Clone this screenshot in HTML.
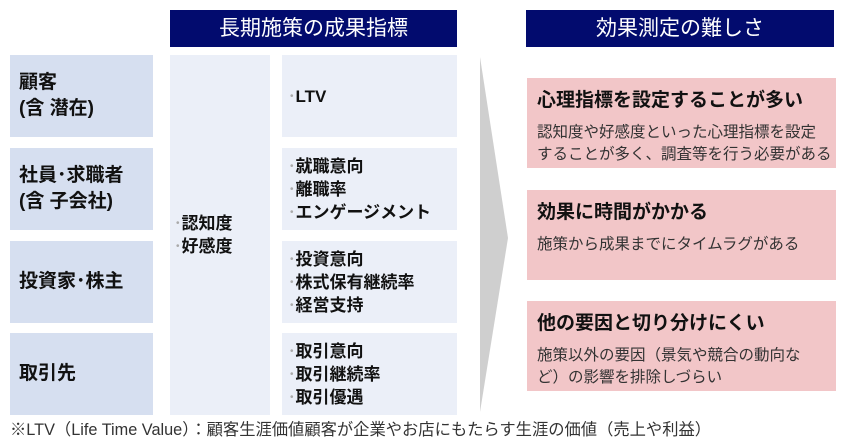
<!DOCTYPE html>
<html><head><meta charset="utf-8"><style>
body{margin:0;width:846px;height:445px;background:#fff;position:relative;overflow:hidden;font-family:"Liberation Sans","Noto Sans CJK JP",sans-serif;color:#111}
.a{position:absolute}
.h{background:#020b6e;color:#fff;font-size:21px;text-align:center;line-height:37px;top:10px;height:37px}
.l{background:#d6dff0;left:10px;width:143px;font-weight:bold;font-size:19px;line-height:26px;display:flex;align-items:center;padding-left:9px;box-sizing:border-box}
.m{background:#ebeff8;left:282px;width:175px;font-weight:bold;font-size:17px;line-height:23px;display:flex;align-items:center;padding-left:8px;box-sizing:border-box}
.d{color:#aaa;font-size:10px;font-weight:normal;vertical-align:3px;margin-right:2px}
.p{background:#f2c6c8;left:527px;width:309px;box-sizing:border-box;padding:10px 8px 10px 10px}
.p b{display:block;font-size:19px;line-height:26px;margin-bottom:8px}
.p span{font-size:15.5px;line-height:22px;color:#333;display:block;white-space:nowrap}
</style></head><body>
<div class="a h" style="left:170px;width:287px">長期施策の成果指標</div>
<div class="a h" style="left:526px;width:308px">効果測定の難しさ</div>
<div class="a l" style="top:55px;height:82px">顧客<br>(含 潜在)</div>
<div class="a l" style="top:148px;height:82px">社員･求職者<br>(含 子会社)</div>
<div class="a l" style="top:241px;height:82px">投資家･株主</div>
<div class="a l" style="top:333px;height:82px">取引先</div>
<div class="a" style="left:170px;top:55px;width:100px;height:360px;background:#ebeff8;display:flex;align-items:center;font-weight:bold;font-size:17px;line-height:23px;padding-left:6px;box-sizing:border-box"><div><span class="d">•</span>認知度<br><span class="d">•</span>好感度</div></div>
<div class="a m" style="top:55px;height:82px"><div><span class="d">•</span>LTV</div></div>
<div class="a m" style="top:148px;height:82px"><div><span class="d">•</span>就職意向<br><span class="d">•</span>離職率<br><span class="d">•</span>エンゲージメント</div></div>
<div class="a m" style="top:241px;height:82px"><div><span class="d">•</span>投資意向<br><span class="d">•</span>株式保有継続率<br><span class="d">•</span>経営支持</div></div>
<div class="a m" style="top:333px;height:82px"><div><span class="d">•</span>取引意向<br><span class="d">•</span>取引継続率<br><span class="d">•</span>取引優遇</div></div>
<svg class="a" style="left:470px;top:50px" width="50" height="370"><polygon points="10,7 38,188 10,362" fill="#cfcfcf"/></svg>
<div class="a p" style="top:78px;height:90px"><b>心理指標を設定することが多い</b><span>認知度や好感度といった心理指標を設定<br>することが多く、調査等を行う必要がある</span></div>
<div class="a p" style="top:190px;height:90px"><b>効果に時間がかかる</b><span>施策から成果までにタイムラグがある</span></div>
<div class="a p" style="top:301px;height:90px"><b>他の要因と切り分けにくい</b><span>施策以外の要因（景気や競合の動向な<br>ど）の影響を排除しづらい</span></div>
<div class="a" style="left:10px;top:416px;font-size:16.3px;color:#333;white-space:nowrap">※LTV（Life Time Value）：顧客生涯価値顧客が企業やお店にもたらす生涯の価値（売上や利益）</div>
</body></html>
